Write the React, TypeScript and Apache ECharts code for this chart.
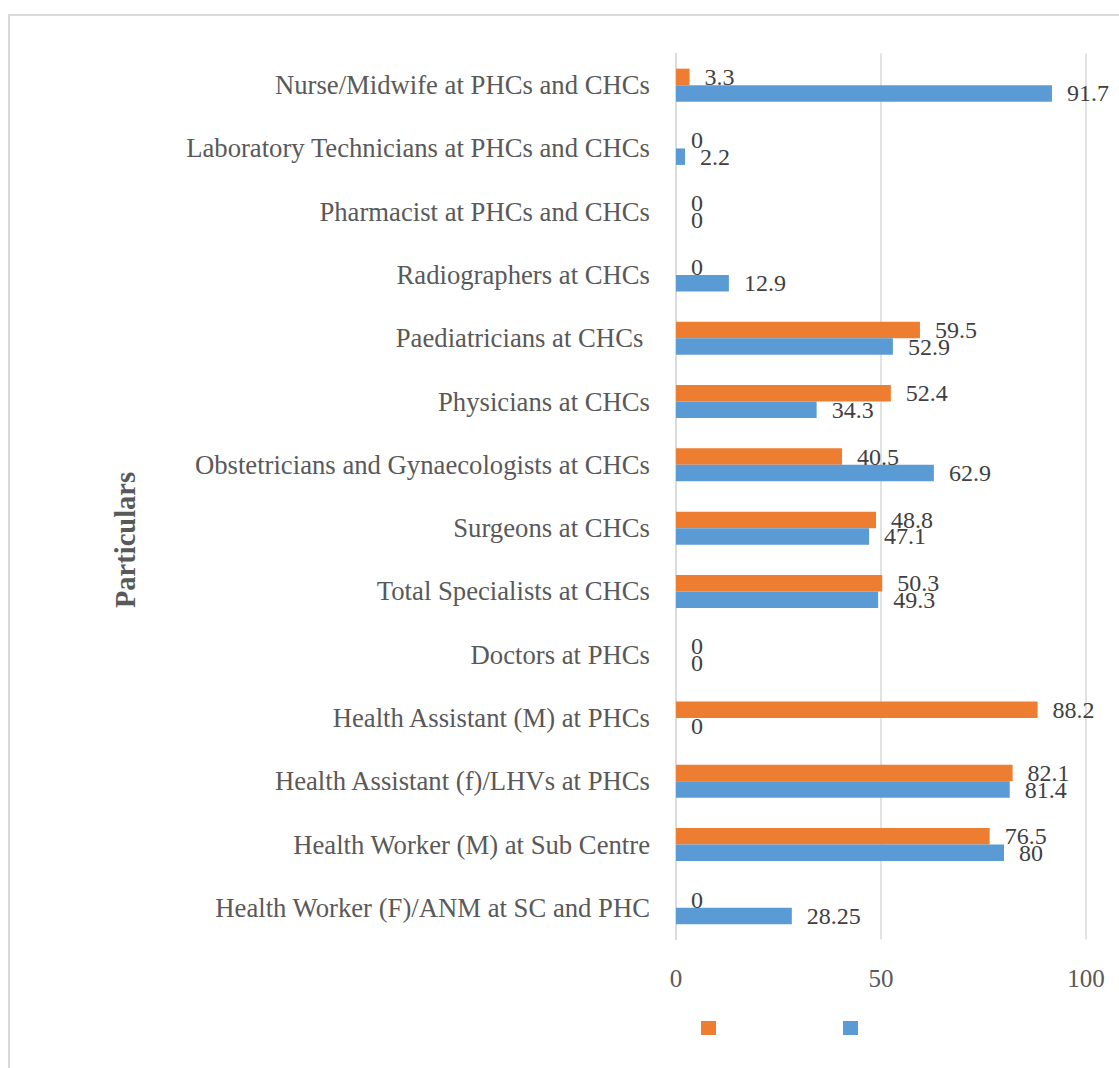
import React, { useEffect, useRef } from "react";
import * as echarts from "echarts";

// Categories listed from top to bottom as they appear on the chart
const categories = [
  "Nurse/Midwife at PHCs and CHCs",
  "Laboratory Technicians at PHCs and CHCs",
  "Pharmacist at PHCs and CHCs",
  "Radiographers at CHCs",
  "Paediatricians at CHCs ",
  "Physicians at CHCs",
  "Obstetricians and Gynaecologists at CHCs",
  "Surgeons at CHCs",
  "Total Specialists at CHCs",
  "Doctors at PHCs",
  "Health Assistant (M) at PHCs",
  "Health Assistant (f)/LHVs at PHCs",
  "Health Worker (M) at Sub Centre",
  "Health Worker (F)/ANM at SC and PHC",
];

const orangeValues = [3.3, 0, 0, 0, 59.5, 52.4, 40.5, 48.8, 50.3, 0, 88.2, 82.1, 76.5, 0];
const blueValues = [91.7, 2.2, 0, 12.9, 52.9, 34.3, 62.9, 47.1, 49.3, 0, 0, 81.4, 80, 28.25];

const xTicks = [0, 50, 100];

const SERIF = "'Liberation Serif', 'Times New Roman', serif";

export default function App() {
  const ref = useRef<HTMLDivElement>(null);

  useEffect(() => {
    if (!ref.current) return;
    const chart = echarts.init(ref.current, null, { renderer: "svg" });

    const valueLabel = {
      show: true,
      position: "right" as const,
      distance: 15,
      fontFamily: SERIF,
      fontSize: 24,
      color: "#404040",
    };

    chart.setOption({
      animation: false,
      backgroundColor: "#ffffff",
      textStyle: { fontFamily: SERIF },
      graphic: [
        {
          type: "rect",
          shape: { x: 9, y: 15, width: 1130, height: 1080 },
          style: { fill: "none", stroke: "#d9d9d9", lineWidth: 2 },
          silent: true,
        },
        {
          type: "text",
          x: 125,
          y: 540,
          rotation: Math.PI / 2,
          style: {
            text: "Particulars",
            font: `bold 28.5px ${SERIF}`,
            fill: "#595959",
            align: "center",
            verticalAlign: "middle",
          },
        },
      ],
      legend: {
        left: 696,
        top: 1016,
        itemWidth: 15,
        itemHeight: 14,
        itemGap: 127,
        icon: "rect",
        formatter: () => "",
        data: ["Series 2", "Series 1"],
      },
      grid: {
        left: 676,
        right: 33,
        top: 53.5,
        bottom: 128.5,
        containLabel: false,
      },
      xAxis: {
        type: "value",
        min: 0,
        max: 100,
        interval: 50,
        axisLine: { show: false },
        axisTick: { show: false },
        splitLine: { show: true, lineStyle: { color: "#d9d9d9", width: 1.5 } },
        axisLabel: {
          margin: 26,
          fontFamily: SERIF,
          fontSize: 25,
          color: "#595959",
          formatter: (v: number) => (xTicks.includes(v) ? String(v) : ""),
        },
      },
      yAxis: {
        type: "category",
        inverse: true,
        data: categories,
        axisLine: { show: true, lineStyle: { color: "#d9d9d9", width: 1.5 } },
        axisTick: { show: false },
        axisLabel: {
          margin: 26,
          fontFamily: SERIF,
          fontSize: 26.7,
          color: "#595959",
        },
      },
      series: [
        {
          name: "Series 2",
          type: "bar",
          data: orangeValues,
          barWidth: 16.5,
          barGap: "0%",
          itemStyle: { color: "#ed7d31" },
          label: valueLabel,
        },
        {
          name: "Series 1",
          type: "bar",
          data: blueValues,
          barWidth: 16.5,
          barGap: "0%",
          itemStyle: { color: "#5b9bd5" },
          label: valueLabel,
        },
      ],
    });

    return () => chart.dispose();
  }, []);

  return (
    <div style={{ position: "fixed", left: 0, top: 0, width: 1119, height: 1068, overflow: "hidden" }}>
      <div ref={ref} style={{ width: 1119, height: 1068 }} />
    </div>
  );
}
